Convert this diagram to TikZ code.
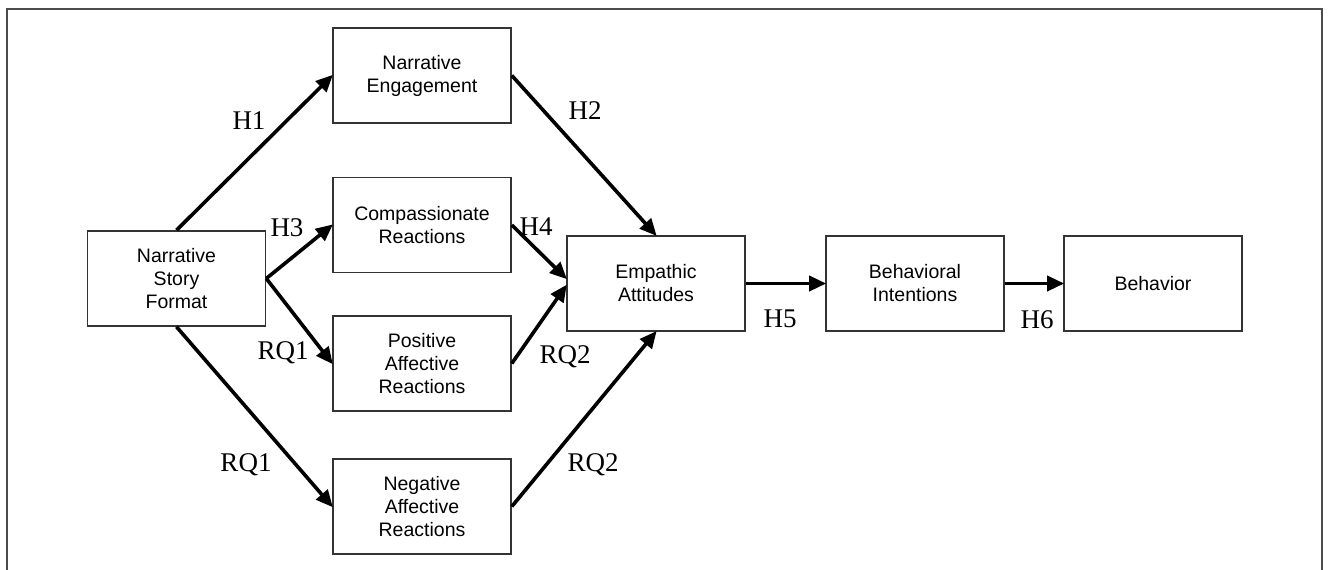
\documentclass[tikz,border=0pt]{standalone}
\usepackage{fontspec}
\setmainfont{Liberation Sans}
\newfontfamily\labfont{Liberation Serif}
\usetikzlibrary{arrows.meta}
\begin{document}
\begin{tikzpicture}[x=1pt,y=-1pt,
  box/.style={draw=black!80, line width=1.6pt, minimum width=178pt, minimum height=95pt, inner sep=0pt, align=center, font=\fontsize{19.5}{23}\selectfont},
  conn/.style={line width=3.6pt, -{Triangle[length=17pt,width=15pt]}, shorten >=-1pt},
  lab/.style={font=\labfont\fontsize{27}{27}\selectfont, inner sep=0pt}]
\useasboundingbox (0,0) rectangle (1330,570);
\draw[line width=1.5pt, black!70] (7,580) -- (7,9) -- (1322,9) -- (1322,580);
\node[box] (nsf) at (176.5,278.5) {Narrative\\Story\\Format};
\node[box] (ne)  at (422,75.5) {Narrative\\Engagement};
\node[box] (cr)  at (422,225) {Compassionate\\Reactions};
\node[box] (par) at (422,363.5) {Positive\\Affective\\Reactions};
\node[box] (nar) at (422,506.5) {Negative\\Affective\\Reactions};
\node[box] (ea)  at (656,283.5) {Empathic\\Attitudes};
\node[box] (bi)  at (915,283.5) {Behavioral\\Intentions};
\node[box] (b)   at (1153,283.5) {Behavior};
\draw[conn] (nsf.north) -- (ne.west);
\draw[conn] (nsf.east) -- (cr.west);
\draw[conn] (nsf.east) -- (par.west);
\draw[conn] (nsf.south) -- (nar.west);
\draw[conn] (ne.east) -- (ea.north);
\draw[conn] (cr.east) -- ([yshift=5pt]ea.west);
\draw[conn] (par.east) -- ([yshift=-2pt]ea.west);
\draw[conn] (nar.east) -- (ea.south);
\draw[conn] (ea.east) -- (bi.west);
\draw[conn] (bi.east) -- (b.west);
\node[lab] (h1) at (249,121) {H1};
\node[lab] (h3) at (287,228) {H3};
\node[lab] (h2) at (585,111) {H2};
\node[lab] (h4) at (536,227) {H4};
\node[lab] (rq1a) at (283,353) {RQ1};
\node[lab] (rq2a) at (565,357) {RQ2};
\node[lab] (rq1b) at (246,465) {RQ1};
\node[lab] (rq2b) at (593,465) {RQ2};
\node[lab] (h5) at (780,319) {H5};
\node[lab] (h6) at (1037,320) {H6};
\end{tikzpicture}
\end{document}
